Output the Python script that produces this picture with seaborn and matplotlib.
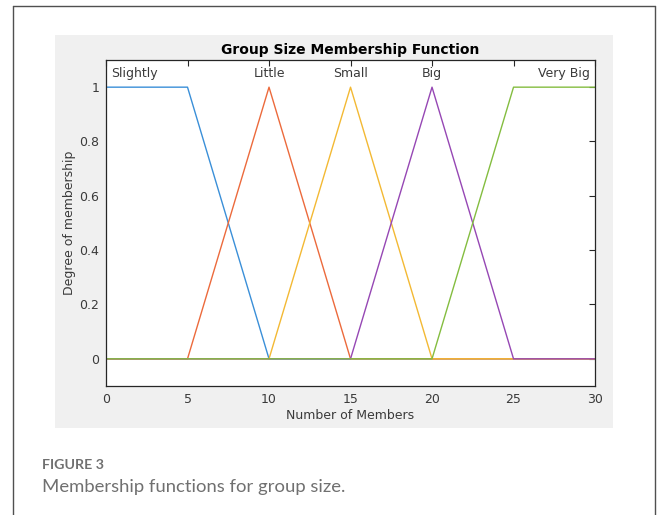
import numpy as np
import pandas as pd
import seaborn as sns
import matplotlib.pyplot as plt
from matplotlib.patches import Rectangle
from matplotlib.lines import Line2D

# Membership function names and their piecewise-linear breakpoints
mf_names = ["Slightly", "Little", "Small", "Big", "Very Big"]
slightly_x = [0, 5, 10, 30]
slightly_y = [1, 1, 0, 0]
little_x = [0, 5, 10, 15, 30]
little_y = [0, 0, 1, 0, 0]
small_x = [0, 10, 15, 20, 30]
small_y = [0, 0, 1, 0, 0]
big_x = [0, 15, 20, 25, 30]
big_y = [0, 0, 1, 0, 0]
very_big_x = [0, 20, 25, 30]
very_big_y = [0, 0, 1, 1]

x_ticks = [0, 5, 10, 15, 20, 25, 30]
y_ticks = [0, 0.2, 0.4, 0.6, 0.8, 1]
y_tick_labels = ["0", "0.2", "0.4", "0.6", "0.8", "1"]

series_x = [slightly_x, little_x, small_x, big_x, very_big_x]
series_y = [slightly_y, little_y, small_y, big_y, very_big_y]

rows = []
for name, xs, ys in zip(mf_names, series_x, series_y):
    for i, (xv, yv) in enumerate(zip(xs, ys)):
        rows.append({"mf": name, "x": xv, "y": yv, "order": i})
df = pd.DataFrame(rows)

colors = ["#3a8fd8", "#ec6a3c", "#f3b934", "#9647b4", "#84bd40"]

sns.set_style("white")
plt.rcParams["font.family"] = ["DejaVu Sans"]

fig = plt.figure(figsize=(6.58, 5.15), dpi=100, facecolor="white")

# outer frame (open at the bottom)
for xs_, ys_ in [([0.0198, 0.0198], [0.0, 0.9883]),
                 ([0.0198, 0.9962], [0.9883, 0.9883]),
                 ([0.9962, 0.9962], [0.9883, 0.0])]:
    fig.add_artist(Line2D(xs_, ys_, transform=fig.transFigure,
                          color="#505050", lw=1.0))

# grey figure panel
fig.add_artist(Rectangle((0.0836, 0.1689), 0.848, 0.7631,
                         transform=fig.transFigure, facecolor="#f0f0f0",
                         edgecolor="none", zorder=0))

ax = fig.add_axes([0.1611, 0.2505, 0.7432, 0.633])
ax.set_facecolor("white")

sns.lineplot(data=df, x="x", y="y", hue="mf", hue_order=mf_names,
             palette=colors, estimator=None, sort=False, units="mf",
             legend=False, lw=1.0, ax=ax)

ax.set_xlim(0, 30)
ax.set_ylim(-0.1, 1.1)
ax.set_xticks(x_ticks)
ax.set_yticks(y_ticks)
ax.set_yticklabels(y_tick_labels)

axis_color = "#262626"
text_color = "#3a3a3a"
ax.tick_params(direction="in", length=4, width=0.8, colors=axis_color,
               labelcolor=text_color, labelsize=9, top=True, right=True,
               pad=5)
for s in ax.spines.values():
    s.set_color(axis_color)
    s.set_linewidth(0.9)
    s.set_visible(True)

ax.set_xlabel("Number of Members", fontsize=9, color=text_color, labelpad=2)
ax.set_ylabel("Degree of membership", fontsize=9, color=text_color, labelpad=2)
ax.set_title("Group Size Membership Function", fontsize=10,
             fontweight="bold", color="black", pad=4)

# label each membership function above its peak
x0, x1 = ax.get_xlim()
for name, xs, ys in zip(mf_names, series_x, series_y):
    peak = [xv for xv, yv in zip(xs, ys) if yv == max(ys)]
    cx = float(np.mean(peak))
    if min(peak) <= x0:
        ax.text(x0 + 0.3, 1.05, name, ha="left", va="center",
                fontsize=9, color=text_color)
    elif max(peak) >= x1:
        ax.text(x1 - 0.3, 1.05, name, ha="right", va="center",
                fontsize=9, color=text_color)
    else:
        ax.text(cx, 1.05, name, ha="center", va="center",
                fontsize=9, color=text_color)

# caption
fig.text(0.064, 1 - 465 / 515, "FIGURE 3", fontsize=10.3, fontweight="bold",
         color="#707070", family=["Lato", "DejaVu Sans"], va="center")
fig.text(0.064, 1 - 487 / 515, "Membership functions for group size.",
         fontsize=13.3, color="#707070", family=["Lato", "DejaVu Sans"],
         va="center")

fig.savefig("out.png", dpi=100, facecolor="white")
